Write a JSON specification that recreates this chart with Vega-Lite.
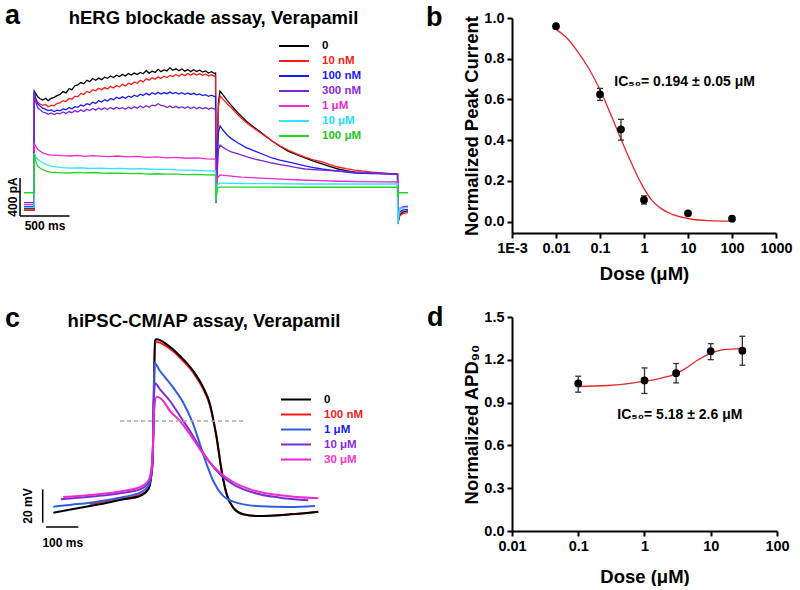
{
  "$schema": "https://vega.github.io/schema/vega-lite/v6.json",
  "background": "white",
  "padding": {"left": 0, "top": 2, "right": 0, "bottom": 0},
  "bounds": "flush",
  "columns": 2,
  "spacing": {"row": 84, "column": 92},
  "resolve": {"scale": {"x": "independent", "y": "independent", "color": "independent"}, "legend": {"color": "independent"}},
  "config": {
    "view": {"stroke": null},
    "font": "Liberation Sans",
    "text": {"font": "Liberation Sans", "fontWeight": "bold", "color": "black"},
    "axis": {
      "domainColor": "black", "domainWidth": 2, "tickColor": "black", "tickWidth": 2, "tickSize": 5,
      "labelFont": "Liberation Sans", "labelFontWeight": "bold", "labelFontSize": 14.5, "labelColor": "black", "labelPadding": 3,
      "labelFlush": false, "labelOverlap": false, "labelBound": false,
      "titleFont": "Liberation Sans", "titleFontWeight": "bold", "titleFontSize": 18.5, "titleColor": "black", "grid": false
    },
    "legend": {
      "padding": 0, "symbolType": "stroke", "symbolSize": 900, "symbolStrokeWidth": 2,
      "labelFont": "Liberation Sans", "labelFontWeight": "bold", "labelFontSize": 11.5, "labelOffset": 12, "rowPadding": 2
    }
  },
  "datasets": {
    "herg": [
      {"c":"0","t":-94,"v":74},{"c":"0","t":9,"v":74},{"c":"0","t":10,"v":1316},{"c":"0","t":25,"v":1290},{"c":"0","t":45,"v":1255},{"c":"0","t":68,"v":1235},{"c":"0","t":95,"v":1222},{"c":"0","t":125,"v":1240},{"c":"0","t":150,"v":1215},{"c":"0","t":180,"v":1238},{"c":"0","t":210,"v":1250},{"c":"0","t":240,"v":1268},{"c":"0","t":270,"v":1280},{"c":"0","t":300,"v":1310},{"c":"0","t":330,"v":1296},{"c":"0","t":360,"v":1340},{"c":"0","t":390,"v":1330},{"c":"0","t":420,"v":1372},{"c":"0","t":450,"v":1380},{"c":"0","t":480,"v":1405},{"c":"0","t":510,"v":1392},{"c":"0","t":540,"v":1430},{"c":"0","t":570,"v":1415},{"c":"0","t":600,"v":1448},{"c":"0","t":630,"v":1430},{"c":"0","t":660,"v":1452},{"c":"0","t":690,"v":1436},{"c":"0","t":720,"v":1462},{"c":"0","t":750,"v":1450},{"c":"0","t":780,"v":1475},{"c":"0","t":810,"v":1458},{"c":"0","t":840,"v":1482},{"c":"0","t":870,"v":1468},{"c":"0","t":900,"v":1490},{"c":"0","t":930,"v":1475},{"c":"0","t":960,"v":1500},{"c":"0","t":990,"v":1484},{"c":"0","t":1020,"v":1505},{"c":"0","t":1050,"v":1490},{"c":"0","t":1080,"v":1512},{"c":"0","t":1110,"v":1498},{"c":"0","t":1140,"v":1530},{"c":"0","t":1170,"v":1505},{"c":"0","t":1200,"v":1525},{"c":"0","t":1230,"v":1512},{"c":"0","t":1260,"v":1545},{"c":"0","t":1290,"v":1520},{"c":"0","t":1320,"v":1538},{"c":"0","t":1350,"v":1528},{"c":"0","t":1380,"v":1560},{"c":"0","t":1410,"v":1535},{"c":"0","t":1440,"v":1550},{"c":"0","t":1470,"v":1530},{"c":"0","t":1500,"v":1548},{"c":"0","t":1530,"v":1525},{"c":"0","t":1560,"v":1542},{"c":"0","t":1590,"v":1520},{"c":"0","t":1620,"v":1540},{"c":"0","t":1650,"v":1522},{"c":"0","t":1680,"v":1535},{"c":"0","t":1710,"v":1515},{"c":"0","t":1740,"v":1528},{"c":"0","t":1770,"v":1505},{"c":"0","t":1800,"v":1520},{"c":"0","t":1830,"v":1500},{"c":"0","t":1841,"v":1505},
      {"c":"0","t":1843,"v":140},{"c":"0","t":1870,"v":1200},{"c":"0","t":1886,"v":1316},{"c":"0","t":1920,"v":1270},{"c":"0","t":1960,"v":1215},{"c":"0","t":2000,"v":1165},{"c":"0","t":2068,"v":1085},{"c":"0","t":2150,"v":1000},{"c":"0","t":2239,"v":927},{"c":"0","t":2330,"v":855},{"c":"0","t":2411,"v":790},{"c":"0","t":2490,"v":735},{"c":"0","t":2573,"v":684},{"c":"0","t":2660,"v":645},{"c":"0","t":2744,"v":611},{"c":"0","t":2830,"v":578},{"c":"0","t":2916,"v":548},{"c":"0","t":3000,"v":520},{"c":"0","t":3077,"v":495},{"c":"0","t":3160,"v":478},{"c":"0","t":3249,"v":463},{"c":"0","t":3340,"v":456},{"c":"0","t":3421,"v":453},{"c":"0","t":3550,"v":447},{"c":"0","t":3679,"v":442},{"c":"0","t":3681,"v":-84},{"c":"0","t":3700,"v":10},{"c":"0","t":3730,"v":40},{"c":"0","t":3784,"v":53},
      {"c":"10 nM","t":-94,"v":60},{"c":"10 nM","t":9,"v":60},{"c":"10 nM","t":10,"v":1300},{"c":"10 nM","t":25,"v":1240},{"c":"10 nM","t":45,"v":1195},{"c":"10 nM","t":68,"v":1179},{"c":"10 nM","t":95,"v":1165},{"c":"10 nM","t":125,"v":1175},{"c":"10 nM","t":150,"v":1150},{"c":"10 nM","t":180,"v":1168},{"c":"10 nM","t":210,"v":1160},{"c":"10 nM","t":240,"v":1185},{"c":"10 nM","t":270,"v":1190},{"c":"10 nM","t":300,"v":1215},{"c":"10 nM","t":330,"v":1205},{"c":"10 nM","t":360,"v":1238},{"c":"10 nM","t":390,"v":1230},{"c":"10 nM","t":420,"v":1262},{"c":"10 nM","t":450,"v":1255},{"c":"10 nM","t":480,"v":1290},{"c":"10 nM","t":510,"v":1280},{"c":"10 nM","t":540,"v":1312},{"c":"10 nM","t":570,"v":1300},{"c":"10 nM","t":600,"v":1330},{"c":"10 nM","t":630,"v":1318},{"c":"10 nM","t":660,"v":1345},{"c":"10 nM","t":690,"v":1330},{"c":"10 nM","t":720,"v":1352},{"c":"10 nM","t":750,"v":1338},{"c":"10 nM","t":780,"v":1365},{"c":"10 nM","t":810,"v":1348},{"c":"10 nM","t":840,"v":1372},{"c":"10 nM","t":870,"v":1360},{"c":"10 nM","t":900,"v":1385},{"c":"10 nM","t":930,"v":1370},{"c":"10 nM","t":960,"v":1398},{"c":"10 nM","t":990,"v":1385},{"c":"10 nM","t":1020,"v":1412},{"c":"10 nM","t":1050,"v":1398},{"c":"10 nM","t":1080,"v":1428},{"c":"10 nM","t":1110,"v":1412},{"c":"10 nM","t":1140,"v":1445},{"c":"10 nM","t":1170,"v":1430},{"c":"10 nM","t":1200,"v":1455},{"c":"10 nM","t":1230,"v":1440},{"c":"10 nM","t":1260,"v":1465},{"c":"10 nM","t":1290,"v":1448},{"c":"10 nM","t":1320,"v":1472},{"c":"10 nM","t":1350,"v":1458},{"c":"10 nM","t":1380,"v":1480},{"c":"10 nM","t":1410,"v":1468},{"c":"10 nM","t":1440,"v":1490},{"c":"10 nM","t":1470,"v":1472},{"c":"10 nM","t":1500,"v":1495},{"c":"10 nM","t":1530,"v":1478},{"c":"10 nM","t":1560,"v":1500},{"c":"10 nM","t":1590,"v":1482},{"c":"10 nM","t":1620,"v":1502},{"c":"10 nM","t":1650,"v":1485},{"c":"10 nM","t":1680,"v":1500},{"c":"10 nM","t":1710,"v":1480},{"c":"10 nM","t":1740,"v":1496},{"c":"10 nM","t":1770,"v":1475},{"c":"10 nM","t":1800,"v":1488},{"c":"10 nM","t":1830,"v":1470},{"c":"10 nM","t":1841,"v":1475},
      {"c":"10 nM","t":1843,"v":140},{"c":"10 nM","t":1870,"v":1150},{"c":"10 nM","t":1886,"v":1264},{"c":"10 nM","t":1920,"v":1225},{"c":"10 nM","t":1960,"v":1180},{"c":"10 nM","t":2000,"v":1140},{"c":"10 nM","t":2068,"v":1064},{"c":"10 nM","t":2150,"v":985},{"c":"10 nM","t":2239,"v":916},{"c":"10 nM","t":2330,"v":850},{"c":"10 nM","t":2411,"v":790},{"c":"10 nM","t":2490,"v":740},{"c":"10 nM","t":2573,"v":695},{"c":"10 nM","t":2660,"v":655},{"c":"10 nM","t":2744,"v":621},{"c":"10 nM","t":2830,"v":592},{"c":"10 nM","t":2916,"v":569},{"c":"10 nM","t":3000,"v":540},{"c":"10 nM","t":3077,"v":516},{"c":"10 nM","t":3160,"v":498},{"c":"10 nM","t":3249,"v":484},{"c":"10 nM","t":3340,"v":472},{"c":"10 nM","t":3421,"v":463},{"c":"10 nM","t":3550,"v":452},{"c":"10 nM","t":3679,"v":442},{"c":"10 nM","t":3681,"v":-84},{"c":"10 nM","t":3700,"v":0},{"c":"10 nM","t":3730,"v":25},{"c":"10 nM","t":3784,"v":35},
      {"c":"100 nM","t":-94,"v":98},{"c":"100 nM","t":9,"v":98},{"c":"100 nM","t":10,"v":1310},{"c":"100 nM","t":25,"v":1230},{"c":"100 nM","t":45,"v":1180},{"c":"100 nM","t":68,"v":1158},{"c":"100 nM","t":95,"v":1135},{"c":"100 nM","t":125,"v":1122},{"c":"100 nM","t":150,"v":1110},{"c":"100 nM","t":180,"v":1118},{"c":"100 nM","t":210,"v":1100},{"c":"100 nM","t":240,"v":1115},{"c":"100 nM","t":270,"v":1108},{"c":"100 nM","t":300,"v":1128},{"c":"100 nM","t":330,"v":1118},{"c":"100 nM","t":360,"v":1140},{"c":"100 nM","t":390,"v":1130},{"c":"100 nM","t":420,"v":1152},{"c":"100 nM","t":450,"v":1145},{"c":"100 nM","t":480,"v":1168},{"c":"100 nM","t":510,"v":1158},{"c":"100 nM","t":540,"v":1182},{"c":"100 nM","t":570,"v":1172},{"c":"100 nM","t":600,"v":1198},{"c":"100 nM","t":630,"v":1185},{"c":"100 nM","t":660,"v":1215},{"c":"100 nM","t":690,"v":1200},{"c":"100 nM","t":720,"v":1225},{"c":"100 nM","t":750,"v":1212},{"c":"100 nM","t":780,"v":1238},{"c":"100 nM","t":810,"v":1225},{"c":"100 nM","t":840,"v":1250},{"c":"100 nM","t":870,"v":1236},{"c":"100 nM","t":900,"v":1255},{"c":"100 nM","t":930,"v":1240},{"c":"100 nM","t":960,"v":1262},{"c":"100 nM","t":990,"v":1250},{"c":"100 nM","t":1020,"v":1272},{"c":"100 nM","t":1050,"v":1258},{"c":"100 nM","t":1080,"v":1282},{"c":"100 nM","t":1110,"v":1268},{"c":"100 nM","t":1140,"v":1292},{"c":"100 nM","t":1170,"v":1275},{"c":"100 nM","t":1200,"v":1298},{"c":"100 nM","t":1230,"v":1282},{"c":"100 nM","t":1260,"v":1302},{"c":"100 nM","t":1290,"v":1285},{"c":"100 nM","t":1320,"v":1300},{"c":"100 nM","t":1350,"v":1288},{"c":"100 nM","t":1380,"v":1305},{"c":"100 nM","t":1410,"v":1290},{"c":"100 nM","t":1440,"v":1302},{"c":"100 nM","t":1470,"v":1285},{"c":"100 nM","t":1500,"v":1298},{"c":"100 nM","t":1530,"v":1282},{"c":"100 nM","t":1560,"v":1295},{"c":"100 nM","t":1590,"v":1280},{"c":"100 nM","t":1620,"v":1292},{"c":"100 nM","t":1650,"v":1275},{"c":"100 nM","t":1680,"v":1285},{"c":"100 nM","t":1710,"v":1268},{"c":"100 nM","t":1740,"v":1278},{"c":"100 nM","t":1770,"v":1260},{"c":"100 nM","t":1800,"v":1272},{"c":"100 nM","t":1830,"v":1258},{"c":"100 nM","t":1841,"v":1262},
      {"c":"100 nM","t":1843,"v":140},{"c":"100 nM","t":1870,"v":880},{"c":"100 nM","t":1886,"v":948},{"c":"100 nM","t":1920,"v":900},{"c":"100 nM","t":1960,"v":850},{"c":"100 nM","t":2000,"v":815},{"c":"100 nM","t":2068,"v":769},{"c":"100 nM","t":2150,"v":720},{"c":"100 nM","t":2239,"v":684},{"c":"100 nM","t":2330,"v":645},{"c":"100 nM","t":2411,"v":611},{"c":"100 nM","t":2490,"v":588},{"c":"100 nM","t":2573,"v":569},{"c":"100 nM","t":2660,"v":548},{"c":"100 nM","t":2744,"v":527},{"c":"100 nM","t":2830,"v":510},{"c":"100 nM","t":2916,"v":495},{"c":"100 nM","t":3000,"v":484},{"c":"100 nM","t":3077,"v":474},{"c":"100 nM","t":3160,"v":463},{"c":"100 nM","t":3249,"v":453},{"c":"100 nM","t":3421,"v":447},{"c":"100 nM","t":3679,"v":442},{"c":"100 nM","t":3681,"v":-84},{"c":"100 nM","t":3700,"v":40},{"c":"100 nM","t":3730,"v":62},{"c":"100 nM","t":3784,"v":70},
      {"c":"300 nM","t":-94,"v":140},{"c":"300 nM","t":9,"v":140},{"c":"300 nM","t":10,"v":1300},{"c":"300 nM","t":25,"v":1200},{"c":"300 nM","t":45,"v":1140},{"c":"300 nM","t":68,"v":1120},{"c":"300 nM","t":95,"v":1095},{"c":"300 nM","t":125,"v":1085},{"c":"300 nM","t":150,"v":1070},{"c":"300 nM","t":180,"v":1085},{"c":"300 nM","t":210,"v":1068},{"c":"300 nM","t":240,"v":1082},{"c":"300 nM","t":270,"v":1075},{"c":"300 nM","t":300,"v":1095},{"c":"300 nM","t":330,"v":1080},{"c":"300 nM","t":360,"v":1100},{"c":"300 nM","t":390,"v":1088},{"c":"300 nM","t":420,"v":1110},{"c":"300 nM","t":450,"v":1095},{"c":"300 nM","t":480,"v":1118},{"c":"300 nM","t":510,"v":1100},{"c":"300 nM","t":540,"v":1125},{"c":"300 nM","t":570,"v":1110},{"c":"300 nM","t":600,"v":1132},{"c":"300 nM","t":630,"v":1115},{"c":"300 nM","t":660,"v":1138},{"c":"300 nM","t":690,"v":1120},{"c":"300 nM","t":720,"v":1140},{"c":"300 nM","t":750,"v":1122},{"c":"300 nM","t":780,"v":1142},{"c":"300 nM","t":810,"v":1125},{"c":"300 nM","t":840,"v":1145},{"c":"300 nM","t":870,"v":1128},{"c":"300 nM","t":900,"v":1140},{"c":"300 nM","t":930,"v":1125},{"c":"300 nM","t":960,"v":1146},{"c":"300 nM","t":990,"v":1130},{"c":"300 nM","t":1020,"v":1150},{"c":"300 nM","t":1050,"v":1135},{"c":"300 nM","t":1080,"v":1158},{"c":"300 nM","t":1110,"v":1140},{"c":"300 nM","t":1140,"v":1162},{"c":"300 nM","t":1170,"v":1145},{"c":"300 nM","t":1200,"v":1168},{"c":"300 nM","t":1230,"v":1160},{"c":"300 nM","t":1260,"v":1182},{"c":"300 nM","t":1290,"v":1165},{"c":"300 nM","t":1320,"v":1160},{"c":"300 nM","t":1350,"v":1142},{"c":"300 nM","t":1380,"v":1158},{"c":"300 nM","t":1410,"v":1140},{"c":"300 nM","t":1440,"v":1155},{"c":"300 nM","t":1470,"v":1138},{"c":"300 nM","t":1500,"v":1152},{"c":"300 nM","t":1530,"v":1135},{"c":"300 nM","t":1560,"v":1150},{"c":"300 nM","t":1590,"v":1132},{"c":"300 nM","t":1620,"v":1148},{"c":"300 nM","t":1650,"v":1130},{"c":"300 nM","t":1680,"v":1145},{"c":"300 nM","t":1710,"v":1128},{"c":"300 nM","t":1740,"v":1142},{"c":"300 nM","t":1770,"v":1125},{"c":"300 nM","t":1800,"v":1138},{"c":"300 nM","t":1830,"v":1125},{"c":"300 nM","t":1841,"v":1130},
      {"c":"300 nM","t":1843,"v":137},{"c":"300 nM","t":1870,"v":700},{"c":"300 nM","t":1886,"v":748},{"c":"300 nM","t":1920,"v":720},{"c":"300 nM","t":1960,"v":695},{"c":"300 nM","t":2000,"v":675},{"c":"300 nM","t":2068,"v":653},{"c":"300 nM","t":2150,"v":625},{"c":"300 nM","t":2239,"v":600},{"c":"300 nM","t":2330,"v":578},{"c":"300 nM","t":2411,"v":558},{"c":"300 nM","t":2490,"v":542},{"c":"300 nM","t":2573,"v":527},{"c":"300 nM","t":2660,"v":510},{"c":"300 nM","t":2744,"v":495},{"c":"300 nM","t":2916,"v":484},{"c":"300 nM","t":3077,"v":474},{"c":"300 nM","t":3249,"v":462},{"c":"300 nM","t":3421,"v":453},{"c":"300 nM","t":3679,"v":442},{"c":"300 nM","t":3681,"v":-84},{"c":"300 nM","t":3700,"v":70},{"c":"300 nM","t":3730,"v":95},{"c":"300 nM","t":3784,"v":105},
      {"c":"1 μM","t":-94,"v":120},{"c":"1 μM","t":9,"v":120},{"c":"1 μM","t":10,"v":758},{"c":"1 μM","t":25,"v":735},{"c":"1 μM","t":45,"v":700},{"c":"1 μM","t":68,"v":684},{"c":"1 μM","t":95,"v":665},{"c":"1 μM","t":125,"v":655},{"c":"1 μM","t":169,"v":642},{"c":"1 μM","t":220,"v":640},{"c":"1 μM","t":290,"v":635},{"c":"1 μM","t":371,"v":632},{"c":"1 μM","t":450,"v":638},{"c":"1 μM","t":520,"v":628},{"c":"1 μM","t":600,"v":635},{"c":"1 μM","t":674,"v":630},{"c":"1 μM","t":760,"v":625},{"c":"1 μM","t":850,"v":632},{"c":"1 μM","t":950,"v":622},{"c":"1 μM","t":1050,"v":628},{"c":"1 μM","t":1148,"v":618},{"c":"1 μM","t":1250,"v":622},{"c":"1 μM","t":1350,"v":612},{"c":"1 μM","t":1450,"v":618},{"c":"1 μM","t":1550,"v":608},{"c":"1 μM","t":1650,"v":612},{"c":"1 μM","t":1750,"v":602},{"c":"1 μM","t":1841,"v":600},
      {"c":"1 μM","t":1843,"v":140},{"c":"1 μM","t":1860,"v":400},{"c":"1 μM","t":1886,"v":432},{"c":"1 μM","t":1950,"v":425},{"c":"1 μM","t":2100,"v":410},{"c":"1 μM","t":2300,"v":398},{"c":"1 μM","t":2500,"v":388},{"c":"1 μM","t":2700,"v":379},{"c":"1 μM","t":2900,"v":372},{"c":"1 μM","t":3100,"v":366},{"c":"1 μM","t":3300,"v":362},{"c":"1 μM","t":3500,"v":360},{"c":"1 μM","t":3679,"v":358},{"c":"1 μM","t":3681,"v":-84},{"c":"1 μM","t":3700,"v":80},{"c":"1 μM","t":3784,"v":95},
      {"c":"10 μM","t":-94,"v":90},{"c":"10 μM","t":9,"v":90},{"c":"10 μM","t":10,"v":663},{"c":"10 μM","t":25,"v":620},{"c":"10 μM","t":45,"v":595},{"c":"10 μM","t":68,"v":579},{"c":"10 μM","t":100,"v":560},{"c":"10 μM","t":130,"v":545},{"c":"10 μM","t":169,"v":527},{"c":"10 μM","t":230,"v":518},{"c":"10 μM","t":300,"v":510},{"c":"10 μM","t":371,"v":505},{"c":"10 μM","t":470,"v":508},{"c":"10 μM","t":570,"v":500},{"c":"10 μM","t":674,"v":505},{"c":"10 μM","t":780,"v":498},{"c":"10 μM","t":876,"v":502},{"c":"10 μM","t":980,"v":495},{"c":"10 μM","t":1080,"v":498},{"c":"10 μM","t":1148,"v":495},{"c":"10 μM","t":1250,"v":490},{"c":"10 μM","t":1350,"v":492},{"c":"10 μM","t":1450,"v":486},{"c":"10 μM","t":1550,"v":484},{"c":"10 μM","t":1650,"v":480},{"c":"10 μM","t":1750,"v":476},{"c":"10 μM","t":1841,"v":474},
      {"c":"10 μM","t":1843,"v":150},{"c":"10 μM","t":1860,"v":330},{"c":"10 μM","t":1886,"v":347},{"c":"10 μM","t":2100,"v":342},{"c":"10 μM","t":2400,"v":340},{"c":"10 μM","t":2744,"v":337},{"c":"10 μM","t":3100,"v":337},{"c":"10 μM","t":3679,"v":337},{"c":"10 μM","t":3681,"v":-84},{"c":"10 μM","t":3700,"v":80},{"c":"10 μM","t":3784,"v":90},
      {"c":"100 μM","t":-94,"v":245},{"c":"100 μM","t":9,"v":245},{"c":"100 μM","t":10,"v":653},{"c":"100 μM","t":25,"v":580},{"c":"100 μM","t":45,"v":525},{"c":"100 μM","t":68,"v":505},{"c":"100 μM","t":100,"v":485},{"c":"100 μM","t":130,"v":472},{"c":"100 μM","t":169,"v":463},{"c":"100 μM","t":230,"v":458},{"c":"100 μM","t":300,"v":455},{"c":"100 μM","t":371,"v":453},{"c":"100 μM","t":450,"v":460},{"c":"100 μM","t":520,"v":455},{"c":"100 μM","t":600,"v":458},{"c":"100 μM","t":674,"v":453},{"c":"100 μM","t":780,"v":450},{"c":"100 μM","t":876,"v":452},{"c":"100 μM","t":980,"v":446},{"c":"100 μM","t":1080,"v":448},{"c":"100 μM","t":1148,"v":442},{"c":"100 μM","t":1250,"v":445},{"c":"100 μM","t":1350,"v":440},{"c":"100 μM","t":1450,"v":442},{"c":"100 μM","t":1550,"v":436},{"c":"100 μM","t":1650,"v":438},{"c":"100 μM","t":1750,"v":433},{"c":"100 μM","t":1841,"v":432},
      {"c":"100 μM","t":1843,"v":160},{"c":"100 μM","t":1860,"v":295},{"c":"100 μM","t":1886,"v":305},{"c":"100 μM","t":2300,"v":305},{"c":"100 μM","t":2800,"v":303},{"c":"100 μM","t":3679,"v":305},{"c":"100 μM","t":3681,"v":200},{"c":"100 μM","t":3690,"v":245},{"c":"100 μM","t":3784,"v":245}
    ],
    "ap": [
      {"c":"100 nM","t":-194.1,"v":-57.6},{"c":"100 nM","t":-140,"v":-55.8},{"c":"100 nM","t":-91,"v":-54.3},{"c":"100 nM","t":-39.3,"v":-52.2},{"c":"100 nM","t":-13.6,"v":-48.6},{"c":"100 nM","t":-5.3,"v":-42},{"c":"100 nM","t":0,"v":-30},{"c":"100 nM","t":2.5,"v":-7.8},{"c":"100 nM","t":7.1,"v":39.2},{"c":"100 nM","t":12.4,"v":39.6},{"c":"100 nM","t":43.3,"v":36.9},{"c":"100 nM","t":84.5,"v":30.2},{"c":"100 nM","t":125.7,"v":21.2},{"c":"100 nM","t":156.7,"v":11.2},{"c":"100 nM","t":177.4,"v":1.2},{"c":"100 nM","t":187.6,"v":-7.5},{"c":"100 nM","t":198.1,"v":-18.3},{"c":"100 nM","t":213.6,"v":-38.1},{"c":"100 nM","t":229.1,"v":-51.9},{"c":"100 nM","t":249.5,"v":-60},{"c":"100 nM","t":280.5,"v":-63.9},{"c":"100 nM","t":322,"v":-64.8},{"c":"100 nM","t":425.1,"v":-63.8},{"c":"100 nM","t":512.7,"v":-62.2},
      {"c":"0","t":-307.7,"v":-62.8},{"c":"0","t":-250,"v":-60.8},{"c":"0","t":-194.1,"v":-58.8},{"c":"0","t":-140,"v":-56.8},{"c":"0","t":-91,"v":-54.8},{"c":"0","t":-39.3,"v":-52.8},{"c":"0","t":-13.6,"v":-48.8},{"c":"0","t":-5.3,"v":-41.8},{"c":"0","t":0,"v":-30},{"c":"0","t":2.5,"v":-7.8},{"c":"0","t":7.1,"v":40.6},{"c":"0","t":12.4,"v":41.2},{"c":"0","t":43.3,"v":38.2},{"c":"0","t":84.5,"v":31.2},{"c":"0","t":125.7,"v":22.2},{"c":"0","t":156.7,"v":12.2},{"c":"0","t":177.4,"v":2.2},{"c":"0","t":187.6,"v":-6.8},{"c":"0","t":198.1,"v":-17.8},{"c":"0","t":213.6,"v":-37.8},{"c":"0","t":229.1,"v":-51.8},{"c":"0","t":249.5,"v":-59.8},{"c":"0","t":280.5,"v":-63.8},{"c":"0","t":322,"v":-64.8},{"c":"0","t":425.1,"v":-63.8},{"c":"0","t":512.7,"v":-62.2},
      {"c":"1 μM","t":-307.7,"v":-59.2},{"c":"1 μM","t":-250,"v":-58},{"c":"1 μM","t":-194.1,"v":-56.8},{"c":"1 μM","t":-140,"v":-55.2},{"c":"1 μM","t":-91,"v":-53.4},{"c":"1 μM","t":-39.3,"v":-50.8},{"c":"1 μM","t":-13.6,"v":-46.8},{"c":"1 μM","t":-5.3,"v":-41.8},{"c":"1 μM","t":0,"v":-30},{"c":"1 μM","t":2.5,"v":0},{"c":"1 μM","t":5,"v":27.2},{"c":"1 μM","t":22.6,"v":22.2},{"c":"1 μM","t":43.3,"v":17.2},{"c":"1 μM","t":63.8,"v":12.2},{"c":"1 μM","t":94.7,"v":3.2},{"c":"1 μM","t":125.7,"v":-9.8},{"c":"1 μM","t":146.4,"v":-21.8},{"c":"1 μM","t":167.2,"v":-33.8},{"c":"1 μM","t":187.6,"v":-43.8},{"c":"1 μM","t":213.6,"v":-51.8},{"c":"1 μM","t":249.5,"v":-56.2},{"c":"1 μM","t":322,"v":-58.8},{"c":"1 μM","t":425.1,"v":-59.4},{"c":"1 μM","t":502.5,"v":-58.8},
      {"c":"10 μM","t":-284.8,"v":-54.8},{"c":"10 μM","t":-194.1,"v":-53.2},{"c":"10 μM","t":-140,"v":-52.2},{"c":"10 μM","t":-91,"v":-50.8},{"c":"10 μM","t":-39.3,"v":-48.8},{"c":"10 μM","t":-13.6,"v":-44.8},{"c":"10 μM","t":-5.3,"v":-39.8},{"c":"10 μM","t":0,"v":-28},{"c":"10 μM","t":3,"v":0},{"c":"10 μM","t":7.1,"v":14.8},{"c":"10 μM","t":22.6,"v":11.2},{"c":"10 μM","t":53.6,"v":4.2},{"c":"10 μM","t":84.5,"v":-4.8},{"c":"10 μM","t":115.5,"v":-13.8},{"c":"10 μM","t":146.4,"v":-23.8},{"c":"10 μM","t":177.4,"v":-32.8},{"c":"10 μM","t":208.4,"v":-39.8},{"c":"10 μM","t":249.5,"v":-45.8},{"c":"10 μM","t":311.5,"v":-50.8},{"c":"10 μM","t":394.1,"v":-53.8},{"c":"10 μM","t":481.7,"v":-55.4},
      {"c":"30 μM","t":-276.8,"v":-53.4},{"c":"30 μM","t":-194.1,"v":-52.2},{"c":"30 μM","t":-140,"v":-51.2},{"c":"30 μM","t":-91,"v":-49.8},{"c":"30 μM","t":-39.3,"v":-47.4},{"c":"30 μM","t":-13.6,"v":-43.8},{"c":"30 μM","t":-5.3,"v":-37.8},{"c":"30 μM","t":0,"v":-27},{"c":"30 μM","t":4,"v":-2},{"c":"30 μM","t":12.4,"v":6.8},{"c":"30 μM","t":27.9,"v":5.2},{"c":"30 μM","t":53.6,"v":-1.8},{"c":"30 μM","t":84.5,"v":-7.8},{"c":"30 μM","t":115.5,"v":-15.8},{"c":"30 μM","t":146.4,"v":-24.8},{"c":"30 μM","t":177.4,"v":-32.8},{"c":"30 μM","t":208.4,"v":-38.8},{"c":"30 μM","t":249.5,"v":-44.4},{"c":"30 μM","t":311.5,"v":-49.4},{"c":"30 μM","t":394.1,"v":-52.4},{"c":"30 μM","t":512.7,"v":-54.2}
    ],
    "b_pts": [
      {"dose":0.01,"mean":0.96,"lo":0.954,"hi":0.966},
      {"dose":0.1,"mean":0.625,"lo":0.595,"hi":0.654},
      {"dose":0.3,"mean":0.453,"lo":0.4,"hi":0.502},
      {"dose":1,"mean":0.106,"lo":0.086,"hi":0.126},
      {"dose":10,"mean":0.04,"lo":0.034,"hi":0.046},
      {"dose":100,"mean":0.014,"lo":0.01,"hi":0.018}
    ],
    "b_fit": [
      {"dose":0.01,"y":0.944},{"dose":0.017,"y":0.905},{"dose":0.0285,"y":0.846},{"dose":0.057,"y":0.748},{"dose":0.103,"y":0.641},{"dose":0.175,"y":0.527},{"dose":0.271,"y":0.428},{"dose":0.457,"y":0.313},{"dose":0.84,"y":0.191},{"dose":1.55,"y":0.101},{"dose":2.5,"y":0.062},{"dose":4.4,"y":0.035},{"dose":12.5,"y":0.011},{"dose":30,"y":0.004},{"dose":100,"y":0.001}
    ],
    "d_pts": [
      {"dose":0.1,"mean":1.034,"lo":0.973,"hi":1.085},
      {"dose":1,"mean":1.055,"lo":0.964,"hi":1.143},
      {"dose":3,"mean":1.106,"lo":1.038,"hi":1.174},
      {"dose":10,"mean":1.26,"lo":1.201,"hi":1.313},
      {"dose":30,"mean":1.264,"lo":1.162,"hi":1.365}
    ],
    "d_fit": [
      {"dose":0.1,"y":1.013},{"dose":0.27,"y":1.02},{"dose":0.5,"y":1.03},{"dose":1.03,"y":1.05},{"dose":1.8,"y":1.072},{"dose":2.9,"y":1.1},{"dose":3.9,"y":1.131},{"dose":6.2,"y":1.195},{"dose":9.8,"y":1.243},{"dose":15.6,"y":1.271},{"dose":30,"y":1.279}
    ]
  },
  "concat": [
    {
      "width": 420, "height": 215,
      "layer": [
        {
          "data": {"name": "herg"},
          "mark": {"type": "line", "strokeWidth": 1.3},
          "encoding": {
            "x": {"field": "t", "type": "quantitative", "scale": {"domain": [-336.3, 3905.7], "nice": false, "zero": false}, "axis": null},
            "y": {"field": "v", "type": "quantitative", "scale": {"domain": [-179, 2085], "nice": false, "zero": false}, "axis": null},
            "color": {
              "field": "c", "type": "nominal",
              "scale": {"domain": ["0","10 nM","100 nM","300 nM","1 μM","10 μM","100 μM"], "range": ["#000000","#ff1a1a","#1a1aff","#7a26d9","#f028d0","#2ee6ff","#22d622"]},
              "legend": {
                "orient": "none", "legendX": 278, "legendY": 22.4, "title": null, "clipHeight": 11.4,
                "encode": {"labels": {"update": {"fill": {"signal": "datum.value === '10 nM' ? '#ff1a1a' : datum.value === '100 nM' ? '#1a1aff' : datum.value === '300 nM' ? '#8a2be2' : datum.value === '1 μM' ? '#f028d0' : datum.value === '10 μM' ? '#22dcff' : datum.value === '100 μM' ? '#22c822' : '#000000'"}}}}
              }
            }
          }
        },
        {"data": {"values": [{}]}, "mark": {"type": "rule", "strokeWidth": 1.5, "color": "black"}, "encoding": {"x": {"datum": -134}, "y": {"datum": 0}, "y2": {"datum": 400}}},
        {"data": {"values": [{}]}, "mark": {"type": "rule", "strokeWidth": 1.5, "color": "black"}, "encoding": {"x": {"datum": -134}, "x2": {"datum": 366}, "y": {"datum": 0}}},
        {"data": {"values": [{}]}, "mark": {"type": "text", "fontSize": 12, "angle": 270, "align": "center", "baseline": "middle"}, "encoding": {"x": {"datum": -210}, "y": {"datum": 200}, "text": {"value": "400 pA"}}},
        {"data": {"values": [{}]}, "mark": {"type": "text", "fontSize": 12, "align": "center", "baseline": "alphabetic"}, "encoding": {"x": {"datum": 118}, "y": {"datum": -150}, "text": {"value": "500 ms"}}},
        {"data": {"values": [{}]}, "mark": {"type": "text", "fontSize": 27, "align": "left", "baseline": "alphabetic"}, "encoding": {"x": {"datum": -286}, "y": {"datum": 2019}, "text": {"value": "a"}}},
        {"data": {"values": [{}]}, "mark": {"type": "text", "fontSize": 18.5, "align": "center", "baseline": "alphabetic"}, "encoding": {"x": {"datum": 1820}, "y": {"datum": 2019}, "text": {"value": "hERG blockade assay, Verapamil"}}}
      ]
    },
    {
      "width": 264, "height": 215,
      "layer": [
        {
          "data": {"name": "b_fit"},
          "mark": {"type": "line", "color": "#e8262a", "strokeWidth": 1.3, "interpolate": "monotone"},
          "encoding": {
            "x": {"field": "dose", "type": "quantitative", "scale": {"type": "log", "domain": [0.001, 1000], "nice": false},
                  "axis": {"title": "Dose (μM)", "values": [0.001,0.01,0.1,1,10,100,1000], "labelExpr": "datum.value < 0.005 ? '1E-3' : format(datum.value, '~g')", "titlePadding": 10}},
            "y": {"field": "y", "type": "quantitative", "scale": {"domain": [-0.0565, 1.0], "nice": false, "zero": false},
                  "axis": {"title": "Normalized Peak Current", "values": [0,0.2,0.4,0.6,0.8,1.0], "format": ".1f", "titlePadding": 2}}
          }
        },
        {"data": {"name": "b_pts"}, "mark": {"type": "rule", "color": "#333333", "strokeWidth": 1.3}, "encoding": {"x": {"field": "dose", "type": "quantitative", "title": "Dose (μM)"}, "y": {"field": "lo", "type": "quantitative", "title": "Normalized Peak Current"}, "y2": {"field": "hi"}}},
        {"data": {"name": "b_pts"}, "mark": {"type": "tick", "orient": "horizontal", "color": "#333333", "size": 6, "thickness": 1.3, "opacity": 1}, "encoding": {"x": {"field": "dose", "type": "quantitative", "title": "Dose (μM)"}, "y": {"field": "hi", "type": "quantitative", "title": "Normalized Peak Current"}}},
        {"data": {"name": "b_pts"}, "mark": {"type": "tick", "orient": "horizontal", "color": "#333333", "size": 6, "thickness": 1.3, "opacity": 1}, "encoding": {"x": {"field": "dose", "type": "quantitative", "title": "Dose (μM)"}, "y": {"field": "lo", "type": "quantitative", "title": "Normalized Peak Current"}}},
        {"data": {"name": "b_pts"}, "mark": {"type": "circle", "color": "black", "size": 60, "opacity": 1}, "encoding": {"x": {"field": "dose", "type": "quantitative", "title": "Dose (μM)"}, "y": {"field": "mean", "type": "quantitative", "title": "Normalized Peak Current"}}},
        {"data": {"values": [{}]}, "mark": {"type": "text", "fontSize": 27, "align": "left", "baseline": "alphabetic"}, "encoding": {"x": {"datum": 0.0000111}, "y": {"datum": 0.961}, "text": {"value": "b"}}},
        {"data": {"values": [{}]}, "mark": {"type": "text", "fontSize": 14, "align": "left", "baseline": "alphabetic"}, "encoding": {"x": {"datum": 0.2113}, "y": {"datum": 0.666}, "text": {"value": "IC₅₀= 0.194 ± 0.05 μM"}}}
      ]
    },
    {
      "width": 420, "height": 214,
      "layer": [
        {
          "data": {"name": "ap"},
          "mark": {"type": "line", "strokeWidth": 2, "interpolate": "monotone"},
          "encoding": {
            "x": {"field": "t", "type": "quantitative", "scale": {"domain": [-472.8, 827.6], "nice": false, "zero": false}, "axis": null},
            "y": {"field": "v", "type": "quantitative", "scale": {"domain": [-73.8, 54.6], "nice": false, "zero": false}, "axis": null},
            "color": {
              "field": "c", "type": "nominal",
              "scale": {"domain": ["0","100 nM","1 μM","10 μM","30 μM"], "range": ["#000000","#ff1a1a","#2f5ee0","#7a30d0","#f02ad2"]},
              "legend": {
                "orient": "none", "legendX": 280, "legendY": 76.5, "title": null, "clipHeight": 12.2,
                "encode": {"labels": {"update": {"fill": {"signal": "datum.value === '100 nM' ? '#ff1a1a' : datum.value === '1 μM' ? '#1a1aee' : datum.value === '10 μM' ? '#8a2be2' : datum.value === '30 μM' ? '#ff33cc' : '#000000'"}}}}
              }
            }
          }
        },
        {"data": {"values": [{}]}, "mark": {"type": "rule", "strokeWidth": 1.5, "color": "#aaaaaa", "strokeDash": [4, 3]}, "encoding": {"x": {"datum": -101.2}, "x2": {"datum": 285.8}, "y": {"datum": -7.8}}},
        {"data": {"values": [{}]}, "mark": {"type": "rule", "strokeWidth": 1.5, "color": "black"}, "encoding": {"x": {"datum": -340.6}, "y": {"datum": -48.8}, "y2": {"datum": -68.8}}},
        {"data": {"values": [{}]}, "mark": {"type": "rule", "strokeWidth": 1.5, "color": "black"}, "encoding": {"x": {"datum": -330.3}, "x2": {"datum": -230.3}, "y": {"datum": -71.4}}},
        {"data": {"values": [{}]}, "mark": {"type": "text", "fontSize": 12, "angle": 270, "align": "center", "baseline": "middle"}, "encoding": {"x": {"datum": -386}, "y": {"datum": -58.8}, "text": {"value": "20 mV"}}},
        {"data": {"values": [{}]}, "mark": {"type": "text", "fontSize": 12, "align": "center", "baseline": "alphabetic"}, "encoding": {"x": {"datum": -278.6}, "y": {"datum": -83.4}, "text": {"value": "100 ms"}}},
        {"data": {"values": [{}]}, "mark": {"type": "text", "fontSize": 27, "align": "left", "baseline": "alphabetic"}, "encoding": {"x": {"datum": -457.3}, "y": {"datum": 48.8}, "text": {"value": "c"}}},
        {"data": {"values": [{}]}, "mark": {"type": "text", "fontSize": 18.5, "align": "center", "baseline": "alphabetic"}, "encoding": {"x": {"datum": 158.8}, "y": {"datum": 48.8}, "text": {"value": "hiPSC-CM/AP assay, Verapamil"}}}
      ]
    },
    {
      "width": 265, "height": 214,
      "layer": [
        {
          "data": {"name": "d_fit"},
          "mark": {"type": "line", "color": "#e8262a", "strokeWidth": 1.3, "interpolate": "monotone"},
          "encoding": {
            "x": {"field": "dose", "type": "quantitative", "scale": {"type": "log", "domain": [0.01, 100], "nice": false},
                  "axis": {"title": "Dose (μM)", "values": [0.01,0.1,1,10,100], "format": "~g", "titlePadding": 15}},
            "y": {"field": "y", "type": "quantitative", "scale": {"domain": [0, 1.5], "nice": false, "zero": false},
                  "axis": {"title": "Normalized APD₉₀", "values": [0,0.3,0.6,0.9,1.2,1.5], "format": ".1f", "titlePadding": 2}}
          }
        },
        {"data": {"name": "d_pts"}, "mark": {"type": "rule", "color": "#333333", "strokeWidth": 1.3}, "encoding": {"x": {"field": "dose", "type": "quantitative", "title": "Dose (μM)"}, "y": {"field": "lo", "type": "quantitative", "title": "Normalized APD₉₀"}, "y2": {"field": "hi"}}},
        {"data": {"name": "d_pts"}, "mark": {"type": "tick", "orient": "horizontal", "color": "#333333", "size": 6, "thickness": 1.3, "opacity": 1}, "encoding": {"x": {"field": "dose", "type": "quantitative", "title": "Dose (μM)"}, "y": {"field": "hi", "type": "quantitative", "title": "Normalized APD₉₀"}}},
        {"data": {"name": "d_pts"}, "mark": {"type": "tick", "orient": "horizontal", "color": "#333333", "size": 6, "thickness": 1.3, "opacity": 1}, "encoding": {"x": {"field": "dose", "type": "quantitative", "title": "Dose (μM)"}, "y": {"field": "lo", "type": "quantitative", "title": "Normalized APD₉₀"}}},
        {"data": {"name": "d_pts"}, "mark": {"type": "circle", "color": "black", "size": 60, "opacity": 1}, "encoding": {"x": {"field": "dose", "type": "quantitative", "title": "Dose (μM)"}, "y": {"field": "mean", "type": "quantitative", "title": "Normalized APD₉₀"}}},
        {"data": {"values": [{}]}, "mark": {"type": "text", "fontSize": 27, "align": "left", "baseline": "alphabetic"}, "encoding": {"x": {"datum": 0.000521}, "y": {"datum": 1.4346}, "text": {"value": "d"}}},
        {"data": {"values": [{}]}, "mark": {"type": "text", "fontSize": 14, "align": "left", "baseline": "alphabetic"}, "encoding": {"x": {"datum": 0.3886}, "y": {"datum": 0.784}, "text": {"value": "IC₅₀= 5.18 ± 2.6 μM"}}}
      ]
    }
  ]
}
